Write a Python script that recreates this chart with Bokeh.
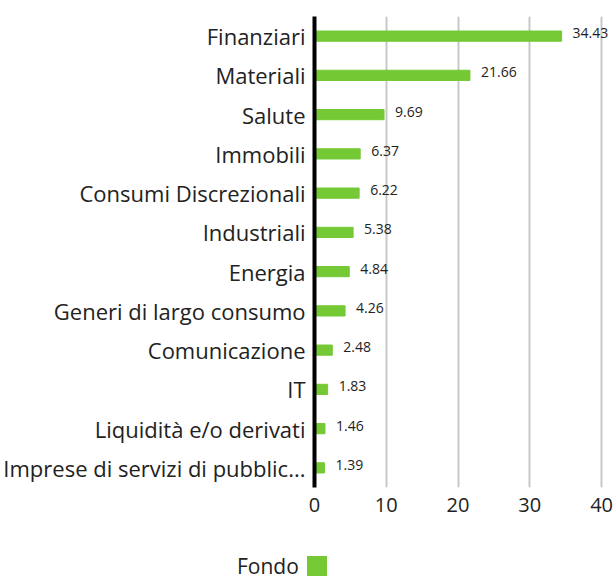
from bokeh.plotting import figure
from bokeh.layouts import column
from bokeh.models import ColumnDataSource, Range1d, FactorRange, FixedTicker, Div
from bokeh.embed import file_html
from bokeh.resources import INLINE
from bokeh.core.properties import value

categories = ["Finanziari", "Materiali", "Salute", "Immobili", "Consumi Discrezionali",
              "Industriali", "Energia", "Generi di largo consumo", "Comunicazione", "IT",
              "Liquidità e/o derivati", "Imprese di servizi di pubblic..."]
fondo = [34.43, 21.66, 9.69, 6.37, 6.22, 5.38, 4.84, 4.26, 2.48, 1.83, 1.46, 1.39]
labels = ["%.2f" % v for v in fondo]
x_ticks = [0, 10, 20, 30, 40]
series_name = "Fondo"

GREEN = "#74C935"
FONT = "Open Sans"
TXT = "#222222"

src = ColumnDataSource(dict(cat=categories, val=fondo, lab=labels))

p = figure(width=616, height=520, output_backend="svg", toolbar_location=None,
           y_range=FactorRange(*reversed(categories)), x_range=Range1d(0, 42.08),
           min_border_left=313, min_border_right=0, min_border_top=16, min_border_bottom=33)
p.outline_line_color = None

r = p.hbar(y="cat", right="val", left=0, height=0.26, source=src, color=GREEN)
p.text(x="val", y="cat", text="lab", source=src, x_offset=11, y_offset=-3,
       text_font=value(FONT), text_font_size="14px", text_baseline="middle",
       text_align="left", text_color=TXT)

p.ygrid.grid_line_color = None
p.xgrid.grid_line_color = "#c8c8c8"
p.xgrid.grid_line_width = 2
p.xaxis.ticker = FixedTicker(ticks=x_ticks)
p.xaxis.axis_line_color = None
p.xaxis.major_tick_line_color = None
p.xaxis.minor_tick_line_color = None
p.xaxis.major_label_text_font = FONT
p.xaxis.major_label_text_font_size = "20px"
p.xaxis.major_label_text_color = TXT
p.xaxis.major_label_standoff = 4

p.yaxis.axis_line_color = "black"
p.yaxis.axis_line_width = 4
p.yaxis.major_tick_line_color = None
p.yaxis.minor_tick_line_color = None
p.yaxis.major_label_text_font = FONT
p.yaxis.major_label_text_font_size = "22px"
p.yaxis.major_label_text_color = TXT
p.yaxis.major_label_standoff = 3

# legend: series name followed by its colour swatch
legend_html = (
    '<div style="box-sizing:content-box;display:flex;align-items:center;height:20px;'
    'padding-top:36px;padding-left:237px;">'
    f'<span style="font-family:\'{FONT}\';font-size:21px;line-height:20px;color:{TXT};">'
    f'{series_name}</span>'
    f'<span style="display:inline-block;width:20px;height:20px;margin-left:8px;'
    f'background:{GREEN};"></span></div>'
)
legend_div = Div(text=legend_html, width=616, height=58, margin=0)

open("out.html", "w").write(file_html(column(p, legend_div, spacing=0), INLINE))
